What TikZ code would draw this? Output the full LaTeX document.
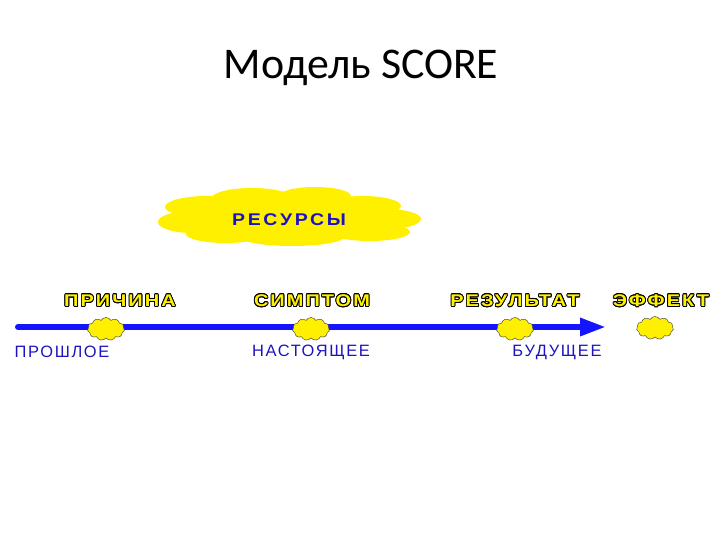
\documentclass[tikz,border=0pt]{standalone}
\usepackage{fontspec}
\setmainfont{Liberation Sans}
\newfontfamily\titlefont{Carlito}
\usepackage[copies]{contour}
\usetikzlibrary{arrows.meta,shapes.symbols}
\definecolor{cloudyellow}{RGB}{255,240,0}
\definecolor{arrowblue}{RGB}{20,20,255}
\definecolor{textblue}{RGB}{30,20,190}
\contourlength{0.85pt}
\tikzset{
	smallcloud/.style={cloud, cloud puffs=11, cloud puff arc=120, aspect=1.7, fill=cloudyellow, draw=black!70, line width=0.5pt, minimum width=37bp, minimum height=23bp, inner sep=0pt},
	stage/.style={inner sep=0pt, font=\fontsize{17}{17}\selectfont\bfseries\addfontfeature{FakeStretch=1.18,LetterSpace=12}, text=cloudyellow},
	time/.style={inner sep=0pt, font=\fontsize{16.5}{16.5}\selectfont\addfontfeature{LetterSpace=10}, text=textblue}
}
\begin{document}
\begin{tikzpicture}[x=1bp,y=-1bp]
		\useasboundingbox (0,0) rectangle (720,540);
		\node[inner sep=0pt, font=\titlefont\fontsize{44}{44}\selectfont] (title) at (361,68) {Модель SCORE};
		% resources cloud
		\fill [cloudyellow] (289,217) ellipse (112 and 22);
		\fill [cloudyellow] (192,222) ellipse (34 and 11);
		\fill [cloudyellow] (207,207) ellipse (42 and 11);
		\fill [cloudyellow] (252,198) ellipse (40 and 10);
		\fill [cloudyellow] (315,196) ellipse (36 and 9);
		\fill [cloudyellow] (363,206) ellipse (38 and 10);
		\fill [cloudyellow] (386,219) ellipse (35 and 10);
		\fill [cloudyellow] (370,232) ellipse (40 and 9);
		\fill [cloudyellow] (292,237) ellipse (52 and 9);
		\fill [cloudyellow] (226,234) ellipse (40 and 9);
		\node[inner sep=0pt, text=textblue, font=\fontsize{17}{17}\selectfont\bfseries\addfontfeature{FakeStretch=1.15,LetterSpace=16}] (resources) at (289,220) {РЕСУРСЫ};
		\coordinate (start) at (18,327);
		\coordinate (end) at (606,327);
		\draw [line width=6bp, arrowblue, line cap=round, -{Triangle[length=26bp,width=17bp]}] (start) -- (end);
		\node[smallcloud] (past) at (106,329) {};
		\node[smallcloud] (present) at (311,329) {};
		\node[smallcloud] (future) at (515,329) {};
		\node[smallcloud] (after) at (655,328) {};
		\node[stage] (cause) at (120,301) {\contour{black}{ПРИЧИНА}};
		\node[stage] (symptom) at (312,301) {\contour{black}{СИМПТОМ}};
		\node[stage] (result) at (515,301) {\contour{black}{РЕЗУЛЬТАТ}};
		\node[stage] (effect) at (661,301) {\contour{black}{ЭФФЕКТ}};
		\node[time] (pastlabel) at (62,352) {ПРОШЛОЕ};
		\node[time] (presentlabel) at (311,352) {НАСТОЯЩЕЕ};
		\node[time] (futurelabel) at (557,352) {БУДУЩЕЕ};
\end{tikzpicture}
\end{document}
